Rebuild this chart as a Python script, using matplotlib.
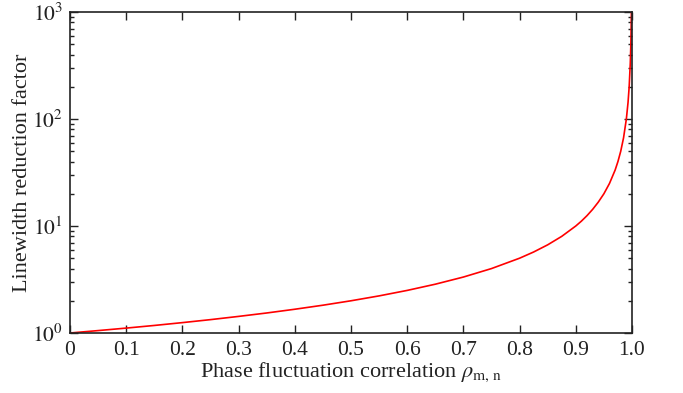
import matplotlib
matplotlib.use("Agg")
import matplotlib.pyplot as plt
from matplotlib.ticker import LogLocator, NullFormatter, FixedLocator

plt.rcParams['font.family'] = ['Liberation Serif', 'DejaVu Serif']
plt.rcParams['mathtext.fontset'] = 'stix'

rho = [0, 0.05, 0.1, 0.15, 0.2, 0.25, 0.3, 0.35, 0.4, 0.45, 0.5, 0.55, 0.6,
       0.65, 0.7, 0.75, 0.8, 0.825, 0.85, 0.875, 0.9, 0.91, 0.92, 0.93, 0.94,
       0.95, 0.96, 0.97, 0.975, 0.98, 0.985, 0.99, 0.993, 0.995, 0.997,
       0.998, 0.999]
factor = [1.0, 1.053, 1.111, 1.176, 1.25, 1.333, 1.429, 1.538, 1.667, 1.818,
          2.0, 2.222, 2.5, 2.857, 3.333, 4.0, 5.0, 5.714, 6.667, 8.0, 10.0,
          11.1, 12.5, 14.3, 16.7, 20.0, 25.0, 33.3, 40.0, 50.0, 66.7, 100.0,
          143.0, 200.0, 333.0, 500.0, 1000.0]
xticks = [0, 0.1, 0.2, 0.3, 0.4, 0.5, 0.6, 0.7, 0.8, 0.9, 1.0]
xticklabels = ['0', '0.1', '0.2', '0.3', '0.4', '0.5', '0.6', '0.7', '0.8', '0.9', '1.0']
yticks = [1, 10, 100, 1000]
yticklabels = [r'$10^0$', r'$10^1$', r'$10^2$', r'$10^3$']

fig = plt.figure(figsize=(6.83, 3.93), dpi=100)
ax = fig.add_axes([0.1025, 0.1527, 0.8228, 0.8168])
ax.plot(rho, factor, color='#ff0000', lw=1.2)
ax.set_yscale('log')
ax.set_xlim(0, 1)
ax.set_ylim(1, 1000)
ax.set_xticks(xticks)
ax.set_xticklabels(xticklabels)
ax.yaxis.set_major_locator(FixedLocator(yticks))
ax.set_yticklabels(yticklabels)
ax.yaxis.set_minor_locator(LogLocator(base=10, subs=range(2, 10)))
ax.yaxis.set_minor_formatter(NullFormatter())
ax.tick_params(which='both', direction='in', top=True, right=True,
               colors='#222222', labelcolor='#222222', labelsize=15.5, width=1.0)
ax.tick_params(which='major', length=6)
ax.tick_params(which='minor', length=3)
ax.tick_params(axis='x', which='major', pad=6)
ax.tick_params(axis='y', which='major', pad=5)
for s in ax.spines.values():
    s.set_color('#222222')
    s.set_linewidth(1.2)
ax.set_xlabel(r'Phase fluctuation correlation $\rho_{\mathrm{m,\,n}}$', fontsize=16, color='#222222', labelpad=0)
ax.set_ylabel('Linewidth reduction factor', fontsize=16, color='#222222', labelpad=0)
fig.savefig('out.png', dpi=100)
